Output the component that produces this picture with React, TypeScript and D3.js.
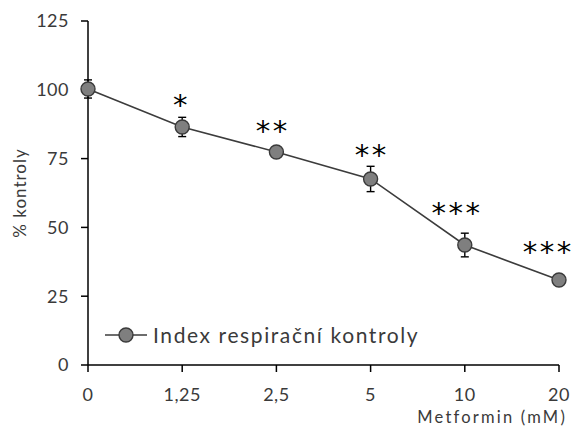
import React from "react";
import * as d3 from "d3";

const categories = ["0", "1,25", "2,5", "5", "10", "20"];
const values = [100.3, 86.5, 77.4, 67.6, 43.6, 30.9];
const errors = [3.3, 3.5, 1.2, 4.6, 4.3, 1.0];
const sigLabels = ["", "*", "**", "**", "***", "***"];
const sigLevelY = [0, 96.3, 87.0, 78.1, 57.0, 42.9];
const sigShift = [0, -2, -5, 0, -9, -12];
const yTicks = [0, 25, 50, 75, 100, 125];
const seriesName = "Index respirační kontroly";

const W = 572;
const H = 430;
const FONT = "Lato, 'Open Sans', sans-serif";
const TXT = "#3a3a3a";
const LINE = "#3c3c3c";

export default function App() {
  const x = d3.scalePoint<string>().domain(categories).range([88, 559]).padding(0);
  const y = d3.scaleLinear().domain([0, 125]).range([365, 21]);
  const pts = categories.map((c, i) => ({ c, v: values[i], e: errors[i], s: sigLabels[i], sy: sigLevelY[i], sx: sigShift[i] }));
  const line = d3
    .line<{ c: string; v: number }>()
    .x((d) => x(d.c) as number)
    .y((d) => y(d.v));

  return (
    <div style={{ position: "absolute", left: 0, top: 0 }}>
      <svg width={W} height={H} style={{ display: "block", background: "#fff" }}>
        <rect width={W} height={H} fill="#fff" />
        {/* y axis */}
        <line x1={88} x2={88} y1={y(125)} y2={y(0)} stroke="#000" strokeWidth={1.5} />
        {yTicks.map((t) => (
          <g key={t}>
            <line x1={81} x2={88} y1={y(t)} y2={y(t)} stroke="#000" strokeWidth={1.5} />
            <text x={69} y={y(t)} dy="0.36em" textAnchor="end" fontFamily={FONT} fontSize={18} letterSpacing={0.5} fill={TXT}>
              {t}
            </text>
          </g>
        ))}
        {/* x axis */}
        <line x1={x(categories[0])} x2={x(categories[categories.length - 1])} y1={y(0)} y2={y(0)} stroke="#000" strokeWidth={1.5} />
        {categories.map((c) => (
          <g key={c}>
            <line x1={x(c)} x2={x(c)} y1={y(0)} y2={y(0) + 7} stroke="#000" strokeWidth={1.5} />
            <text x={x(c)} y={y(0) + 30} dy="0.36em" textAnchor="middle" fontFamily={FONT} fontSize={18} letterSpacing={0.5} fill={TXT}>
              {c}
            </text>
          </g>
        ))}
        <text x={567} y={423} textAnchor="end" fontFamily={FONT} fontSize={16.5} letterSpacing={2.2} fill={TXT}>
          Metformin (mM)
        </text>
        <text
          transform={`translate(26,${193}) rotate(-90)`}
          textAnchor="middle"
          fontFamily={FONT}
          fontSize={17}
          letterSpacing={1}
          fill={TXT}
        >
          % kontroly
        </text>
        {/* line */}
        <path d={line(pts) as string} fill="none" stroke={LINE} strokeWidth={1.6} />
        {/* error bars */}
        {pts.map((d) => (
          <g key={"e" + d.c} stroke="#000" strokeWidth={1.4}>
            <line x1={x(d.c)} x2={x(d.c)} y1={y(d.v + d.e)} y2={y(d.v - d.e)} />
            <line x1={(x(d.c) as number) - 4} x2={(x(d.c) as number) + 4} y1={y(d.v + d.e)} y2={y(d.v + d.e)} />
            <line x1={(x(d.c) as number) - 4} x2={(x(d.c) as number) + 4} y1={y(d.v - d.e)} y2={y(d.v - d.e)} />
          </g>
        ))}
        {/* markers */}
        {pts.map((d) => (
          <circle key={"m" + d.c} cx={x(d.c)} cy={y(d.v)} r={7} fill="#7f7f7f" stroke="#3a3a3a" strokeWidth={1.4} />
        ))}
        {/* significance stars */}
        {pts.map((d) =>
          d.s.split("").map((s, i) => {
            const n = d.s.length;
            return (
              <text
                key={"s" + d.c + i}
                x={(x(d.c) as number) + d.sx + (i - (n - 1) / 2) * 17}
                y={y(d.sy) + 15}
                textAnchor="middle"
                fontFamily="'DejaVu Sans', sans-serif"
                fontSize={29}
                fill="#000"
              >
                {s}
              </text>
            );
          })
        )}
        {/* legend */}
        <line x1={105} x2={147} y1={335} y2={335} stroke={LINE} strokeWidth={1.6} />
        <circle cx={126} cy={335} r={7} fill="#7f7f7f" stroke="#3a3a3a" strokeWidth={1.4} />
        <text x={153} y={335} dy="0.36em" fontFamily={FONT} fontSize={21} letterSpacing={1.6} fill={TXT}>
          {seriesName}
        </text>
      </svg>
    </div>
  );
}
